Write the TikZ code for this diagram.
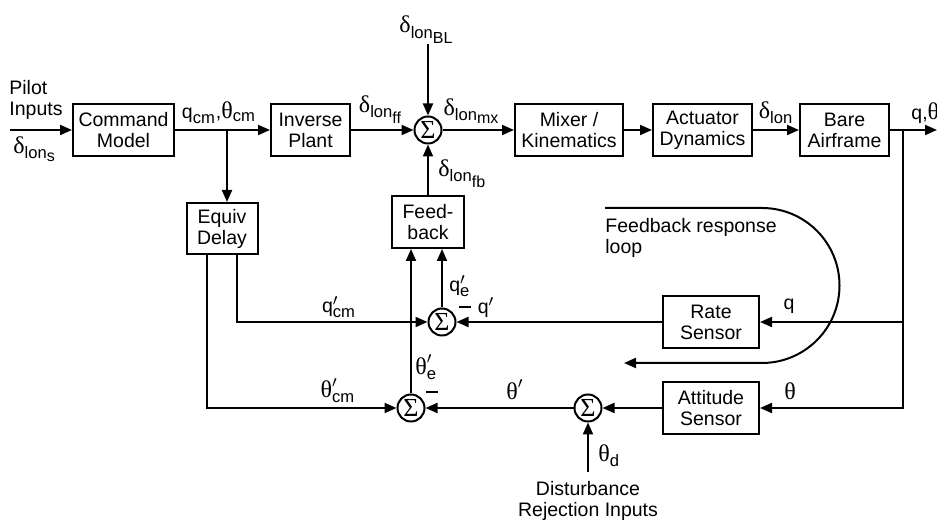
\documentclass[tikz,border=0pt]{standalone}
\usepackage{amsmath}
\usepackage{fontspec}
\setmainfont{Liberation Sans}
\newfontfamily\grk{Liberation Serif}
\usetikzlibrary{positioning,arrows.meta}
\DeclareMathSizes{9.75}{9.75}{8.3}{8}
\newcommand{\gd}{\text{\grk\large δ}}
\newcommand{\gth}{\text{\grk\large θ}}
\newcommand{\dlon}[1]{$\gd_{\text{lon}_{\text{#1}}}$}

\begin{document}
\begin{tikzpicture}[x=0.5pt, y=-0.5pt,
  every node/.style={font=\fontsize{9.75}{10.5}\selectfont},
  blk/.style={draw, line width=1pt, minimum height=26pt, align=center, inner sep=1pt},
  sumnode/.style={draw, circle, line width=1pt, minimum size=13.5pt, inner sep=0pt,
    font=\grk\fontsize{13}{13}\selectfont},
  wire/.style={line width=1pt, -{Triangle[length=6pt,width=5pt]}},
  lbl/.style={inner sep=1pt, align=left},
  minus/.style={inner sep=0pt}]

  \useasboundingbox (0,0) rectangle (937,522);

  % forward path
  \node[blk, minimum width=50.5pt] (cmd) at (123.5,130) {Command\\Model};
  \node[blk, minimum width=39.5pt] (inv) at (310.5,130) {Inverse\\Plant};
  \node[sumnode] (s1) at (428,130) {Σ};
  \node[blk, minimum width=54pt] (mix) at (569,130) {Mixer /\\Kinematics};
  \node[blk, minimum width=49.5pt] (act) at (702.5,130) {Actuator\\Dynamics};
  \node[blk, minimum width=44.5pt] (bare) at (844.5,130) {Bare\\Airframe};

  % feedback path
  \node[blk, minimum width=35.5pt, minimum height=25.5pt] (dly) at (222,228.5) {Equiv\\Delay};
  \node[blk, minimum width=36pt] (fb) at (428,222) {Feed-\\back};
  \node[sumnode] (qs) at (442,322) {Σ};
  \node[sumnode] (ts) at (411,408) {Σ};
  \node[sumnode] (ds) at (588,408) {Σ};
  \node[blk, minimum width=48pt] (rate) at (711,322) {Rate\\Sensor};
  \node[blk, minimum width=48pt] (att) at (711,408) {Attitude\\Sensor};

  \coordinate (pin) at (10,130);
  \coordinate (bl) at (428,44);
  \coordinate (br1) at (227,130);
  \coordinate (br2) at (903,130);
  \coordinate (out) at (937,130);
  \coordinate (dist) at (588,472);

  \draw[wire] (pin) -- (cmd);
  \foreach \a/\b in {cmd/inv,inv/s1,s1/mix,mix/act,act/bare}
    \draw[wire] (\a) -- (\b);
  \draw[wire] (bare) -- (out);
  \draw[wire] (bl) -- (s1);
  \draw[wire] (br1) -- (br1 |- dly.north);
  \draw[wire] (br2) |- (rate.east);
  \draw[wire] (br2) |- (att.east);
  \draw[wire] (rate) -- (qs);
  \draw[wire] (att) -- (ds);
  \draw[wire] (ds) -- (ts);
  \draw[wire] (dist) -- (ds);
  \draw[wire] ([xshift=-7.5pt]dly.south) |- (ts);
  \draw[wire] ([xshift=7.5pt]dly.south) |- (qs);
  \draw[wire] (ts) -- (ts |- fb.south);
  \draw[wire] (qs) -- (qs |- fb.south);
  \draw[wire] (fb) -- (s1);

  % response loop
  \coordinate (loopA) at (605,208);
  \coordinate (loopB) at (624,363);
  \draw[wire] (loopA) -- (762,208) arc[start angle=-90, end angle=90, radius=77.5] -- (loopB);
  \node[lbl, anchor=north west] (looptxt) at (603,216) {Feedback response\\loop};

  % signal labels
  \node[lbl, anchor=south west] (pilot) at (7,122) {Pilot\\Inputs};
  \node[lbl, anchor=north west] (dls) at (11,134) {\dlon{s}};
  \node[lbl, anchor=south] (qcm) at (219,126) {$\text{q}_{\text{cm}}$,$\gth_{\text{cm}}$};
  \node[lbl, anchor=south] (dff) at (381,126) {\dlon{ff}};
  \node[lbl, anchor=south] (dmx) at (472,126) {\dlon{mx}};
  \node[lbl, anchor=south] (dbl) at (427,46) {\dlon{BL}};
  \node[lbl, anchor=west] (dfb) at (436,174) {\dlon{fb}};
  \node[lbl, anchor=south] (dln) at (776,126) {$\gd_{\text{lon}}$};
  \node[lbl, anchor=south west] (qth) at (909,126) {q,\gth};
  \node[lbl, anchor=south] (qcmp) at (339,320) {$\text{q}'_{\text{cm}}$};
  \node[lbl, anchor=south] (tcmp) at (338,405) {$\gth'_{\text{cm}}$};
  \node[lbl, anchor=west] (tep) at (413,367) {$\gth'_{\text{e}}$};
  \node[lbl, anchor=west] (qep) at (447,286) {$\text{q}'_{\text{e}}$};
  \node[lbl, anchor=south] (qp) at (486,320) {$\text{q}'$};
  \node[lbl, anchor=south] (tp) at (515,402) {$\gth'$};
  \node[lbl, anchor=south] (ql) at (789,316) {q};
  \node[lbl, anchor=south] (tl) at (790,402) {\gth};
  \node[lbl, anchor=west] (td) at (596,456) {$\gth_{\text{d}}$};
  \node[lbl, anchor=north, align=center] (dtxt) at (588,479) {Disturbance\\Rejection Inputs};
  \node[minus] (mq) at (465,307) {\rule{6pt}{1.1pt}};
  \node[minus] (mt) at (432,392) {\rule{6pt}{1.1pt}};

\end{tikzpicture}
\end{document}
